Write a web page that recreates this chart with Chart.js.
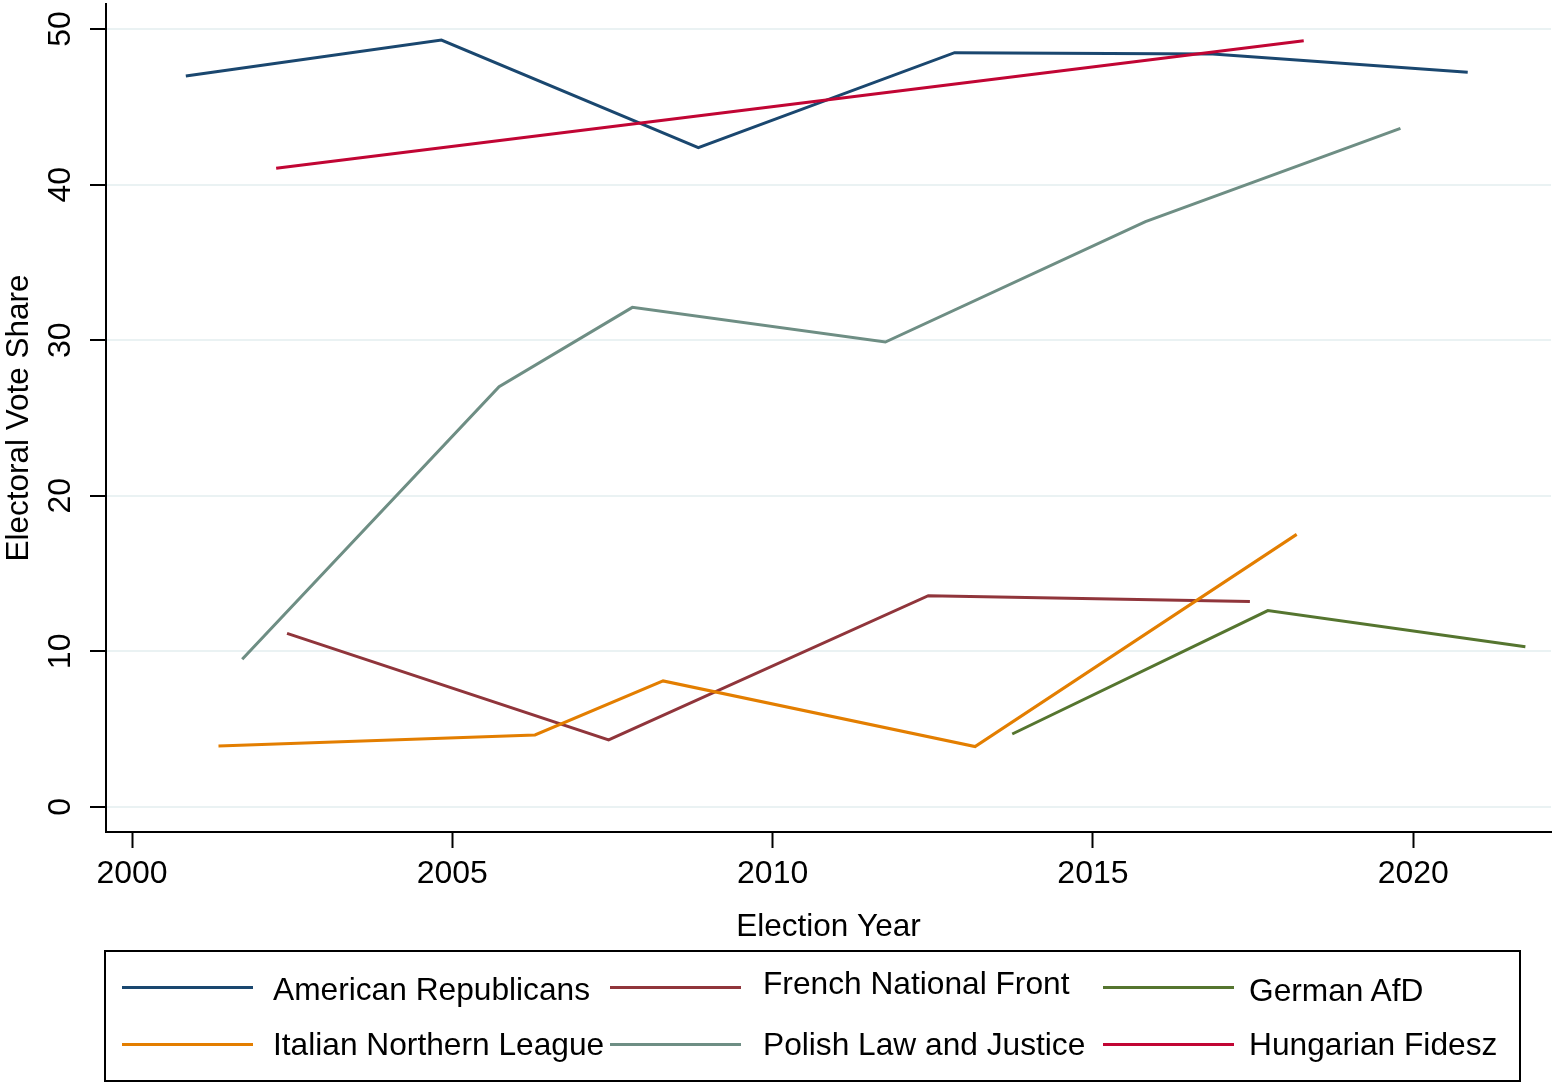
<!DOCTYPE html>
<html>
<head>
<meta charset="utf-8">
<script src="https://cdn.jsdelivr.net/npm/chart.js@4/dist/chart.umd.min.js"></script>
<style>
  html, body { margin: 0; padding: 0; background: #ffffff; }
  #wrap { position: relative; width: 1558px; height: 1088px; }
  #c { position: absolute; left: 0; top: 0; }
  .lg-box { position: absolute; left: 104px; top: 950px; width: 1417px; height: 132px; box-sizing: border-box; border: 2px solid #000; }
  .lg-line { position: absolute; width: 131px; height: 3px; }
  .lg-text { position: absolute; font-family: "Liberation Sans", Arial, Helvetica, sans-serif; font-size: 31.7px; line-height: 31.7px; color: #000; white-space: nowrap; }
</style>
</head>
<body>
<div id="wrap">
  <canvas id="c" width="1558" height="1088"></canvas>
</div>
<script>
// ---- Data ----
const xTickValues = [2000, 2005, 2010, 2015, 2020];
const yTickValues = [0, 10, 20, 30, 40, 50];

const seriesNames = [
  "American Republicans",
  "French National Front",
  "German AfD",
  "Italian Northern League",
  "Polish Law and Justice",
  "Hungarian Fidesz"
];

const republicansYears  = [2000.84, 2004.83, 2008.84, 2012.84, 2016.87, 2020.85];
const republicansShare  = [46.98, 49.29, 42.37, 48.48, 48.39, 47.22];

const frenchYears       = [2002.42, 2007.44, 2012.43, 2017.45];
const frenchShare       = [11.16, 4.31, 13.58, 13.2];

const germanYears       = [2013.74, 2017.73, 2021.75];
const germanShare       = [4.69, 12.62, 10.3];

const italianYears      = [2001.35, 2006.29, 2008.29, 2013.16, 2018.18];
const italianShare      = [3.92, 4.63, 8.10, 3.88, 17.52];

const polishYears       = [2001.72, 2005.73, 2007.81, 2011.76, 2015.82, 2019.8];
const polishShare       = [9.49, 27.01, 32.11, 29.88, 37.62, 43.62];

const hungarianYears    = [2002.25, 2018.29];
const hungarianShare    = [41.05, 49.25];

const seriesColors = ["#1a476f", "#90353b", "#55752f", "#e37e00", "#6e8e84", "#c10534"];

// ---- Build datasets ----
const allYears  = [republicansYears, frenchYears, germanYears, italianYears, polishYears, hungarianYears];
const allShares = [republicansShare, frenchShare, germanShare, italianShare, polishShare, hungarianShare];

function toPoints(xs, ys) { return xs.map((x, i) => ({ x: x, y: ys[i] })); }

const datasets = seriesNames.map((name, i) => ({
  label: name,
  data: toPoints(allYears[i], allShares[i]),
  borderColor: seriesColors[i],
  backgroundColor: seriesColors[i],
  borderWidth: 3,
  pointRadius: 0,
  pointHoverRadius: 0,
  tension: 0,
  fill: false,
  order: -i
}));

const FONT = "'Liberation Sans', Arial, Helvetica, sans-serif";

new Chart(document.getElementById('c'), {
  type: 'line',
  data: { datasets: datasets },
  options: {
    responsive: false,
    animation: false,
    events: [],
    layout: { padding: { left: 0, top: 4, right: 7, bottom: 142 } },
    plugins: {
      legend: { display: false },
      tooltip: { enabled: false }
    },
    scales: {
      x: {
        type: 'linear',
        position: 'bottom',
        min: 1999.594,
        max: 2022.15,
        afterBuildTicks: (scale) => { scale.ticks = xTickValues.map(v => ({ value: v })); },
        afterFit: (scale) => { scale.height = 114; scale.paddingLeft = 0; scale.paddingRight = 0; },
        grid: {
          drawOnChartArea: false,
          drawTicks: true,
          tickLength: 16,
          tickWidth: 2,
          tickColor: '#000000'
        },
        border: { display: true, color: '#000000', width: 2 },
        ticks: {
          autoSkip: false,
          maxRotation: 0,
          minRotation: 0,
          padding: 7,
          color: '#000000',
          font: { family: FONT, size: 32 },
          callback: (v) => String(v)
        },
        title: {
          display: true,
          text: 'Election Year',
          color: '#000000',
          font: { family: FONT, size: 31.5 },
          padding: { top: 0, bottom: 0 }
        }
      },
      y: {
        type: 'linear',
        position: 'left',
        min: -1.61,
        max: 51.61,
        afterBuildTicks: (scale) => { scale.ticks = yTickValues.map(v => ({ value: v })); },
        afterFit: (scale) => { scale.width = 106; scale.paddingTop = 0; scale.paddingBottom = 0; },
        grid: {
          color: '#eaf2f3',
          lineWidth: 2,
          drawTicks: true,
          tickLength: 16,
          tickWidth: 2,
          tickColor: '#000000'
        },
        border: { display: true, color: '#000000', width: 2 },
        ticks: {
          autoSkip: false,
          minRotation: 90,
          maxRotation: 90,
          crossAlign: 'center',
          padding: 11,
          color: '#000000',
          font: { family: FONT, size: 32 },
          callback: (v) => String(v)
        },
        title: {
          display: true,
          text: 'Electoral Vote Share',
          color: '#000000',
          font: { family: FONT, size: 31.5 },
          padding: { top: 0, bottom: 0 }
        }
      }
    }
  }
});

// ---- Legend (HTML, built from the series names and colours) ----
const wrap = document.getElementById('wrap');
const box = document.createElement('div');
box.className = 'lg-box';
wrap.appendChild(box);

const colLineX = [122, 610, 1103];
const colTextX = [273, 763, 1249];
const rowLineY = [987, 1044];
const textBaselines = [[1001, 995, 1002], [1056, 1056, 1056]];
const ASC = 26.9; // baseline offset within the line box

seriesNames.forEach((name, i) => {
  const row = Math.floor(i / 3), col = i % 3;
  const ln = document.createElement('div');
  ln.className = 'lg-line';
  ln.style.left = colLineX[col] + 'px';
  ln.style.top = (rowLineY[row] - 1.5) + 'px';
  ln.style.background = seriesColors[i];
  wrap.appendChild(ln);
  const tx = document.createElement('div');
  tx.className = 'lg-text';
  tx.style.left = colTextX[col] + 'px';
  tx.style.top = (textBaselines[row][col] - ASC) + 'px';
  tx.textContent = name;
  wrap.appendChild(tx);
});
</script>
</body>
</html>
